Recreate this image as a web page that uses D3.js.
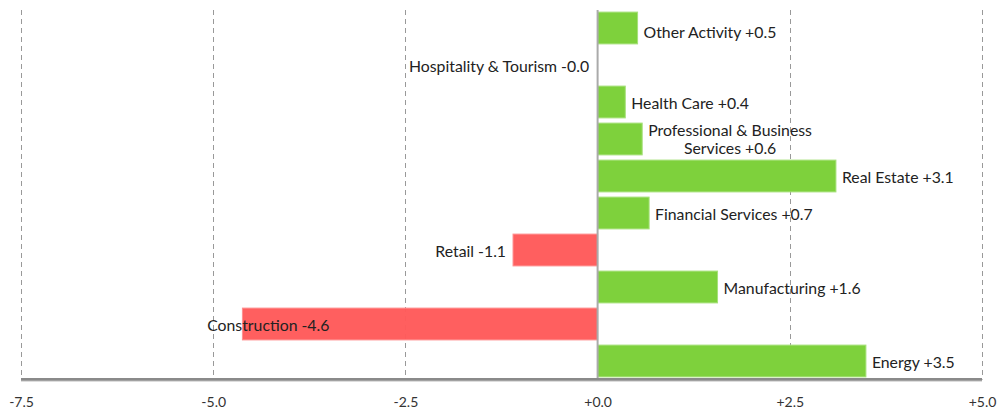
<!DOCTYPE html>
<html><head><meta charset="utf-8">
<script src="https://cdn.jsdelivr.net/npm/d3@7"></script>
<style>
html,body{margin:0;padding:0;background:#fff;}
svg{display:block;font-family:Lato,"Open Sans",sans-serif;}
</style></head>
<body>
<svg id="chart" width="1001" height="410"></svg>
<script>
const categories = ["Other Activity","Hospitality & Tourism","Health Care","Professional & Business Services","Real Estate","Financial Services","Retail","Manufacturing","Construction","Energy"];
const values = [0.52, -0.02, 0.36, 0.58, 3.1, 0.67, -1.1, 1.56, -4.62, 3.49];
const tickValues = [-7.5, -5.0, -2.5, 0.0, 2.5, 5.0];
const tickLabels = ["-7.5","-5.0","-2.5","+0.0","+2.5","+5.0"];

const svg = d3.select("#chart");
const x = d3.scaleLinear().domain([-7.5, 5]).range([21, 982]);
const y = d3.scaleBand().domain(categories).range([9.5, 379.5]).paddingInner(0.14).paddingOuter(0.07);
const axisY = 379.5;
const fmt = v => d3.format("+.1f")(v).replace("\u2212", "-");

// gridlines
svg.append("g").selectAll("line").data(tickValues.filter(v => v !== 0)).join("line")
  .attr("x1", d => Math.round(x(d)) + 0.5).attr("x2", d => Math.round(x(d)) + 0.5)
  .attr("y1", 10).attr("y2", axisY)
  .attr("stroke", "#999").attr("stroke-width", 1).attr("stroke-dasharray", "5,4");

// bars
svg.append("g").selectAll("rect").data(categories.filter((d,i) => Math.abs(x(values[i]) - x(0)) >= 2)).join("rect")
  .attr("x", d => x(Math.min(0, values[categories.indexOf(d)])))
  .attr("width", d => Math.abs(x(values[categories.indexOf(d)]) - x(0)))
  .attr("y", d => y(d)).attr("height", y.bandwidth())
  .attr("fill", d => values[categories.indexOf(d)] >= 0 ? "#7ed13c" : "#ff5a5a")
  .attr("fill-opacity", d => values[categories.indexOf(d)] >= 0 ? 1 : 0.97)
  .attr("stroke", d => values[categories.indexOf(d)] >= 0 ? "#a6e07a" : "#ff8f8f")
  .attr("stroke-width", 1);

// zero line
svg.append("line").attr("x1", x(0)).attr("x2", x(0)).attr("y1", 10).attr("y2", axisY)
  .attr("stroke", "#aaa").attr("stroke-width", 2);

// labels
const lab = svg.append("g").attr("font-size", 15.8).attr("fill", "#222");
categories.forEach((c, i) => {
  const v = values[i];
  let cy = y(c) + y.bandwidth() / 2 + 1;
  cy = Math.max(cy, y.range()[0] + 23);
  const text = c + " " + fmt(v);
  if (v >= 0) {
    if (c.length > 25) {
      const words = c.split(" ");
      const l1 = words.slice(0, 3).join(" ");
      const l2 = words.slice(3).join(" ") + " " + fmt(v);
      const t = lab.append("text").attr("text-anchor", "middle").attr("y", cy - 10);
      t.append("tspan").attr("x", 0).attr("dy", "0.35em").text(l1);
      t.append("tspan").attr("x", 0).attr("dy", "1.16em").text(l2);
      const w = t.node().getBBox().width;
      t.selectAll("tspan").attr("x", x(v) + 6 + w / 2);
    } else {
      lab.append("text").attr("x", x(v) + 6).attr("y", cy).attr("dy", "0.35em").text(text);
    }
  } else {
    const t = lab.append("text").attr("text-anchor", "end").attr("x", x(v) - 7).attr("y", cy).attr("dy", "0.35em").text(text);
    const w = t.node().getBBox().width;
    const minLeft = x(-5) - 6;
    if (x(v) - 7 - w < minLeft) {
      t.attr("text-anchor", "start").attr("x", minLeft);
    }
  }
});

// axis line
svg.append("line").attr("x1", 21).attr("x2", 982).attr("y1", axisY).attr("y2", axisY)
  .attr("stroke", "#8a8a8a").attr("stroke-width", 3);
svg.append("line").attr("x1", 21).attr("x2", 982).attr("y1", axisY + 1.5).attr("y2", axisY + 1.5)
  .attr("stroke", "#bbb").attr("stroke-width", 1);

// tick labels
const axis = d3.axisBottom(x).tickValues(tickValues).tickSize(0).tickPadding(0)
  .tickFormat((d, i) => tickLabels[i]);
const ga = svg.append("g").attr("transform", `translate(0,${axisY})`).call(axis);
ga.select(".domain").remove();
ga.selectAll("text").attr("font-family", "Lato, sans-serif").attr("font-size", 14).attr("fill", "#333").attr("y", 18).attr("dy", "0.71em");
</script>
</body></html>
